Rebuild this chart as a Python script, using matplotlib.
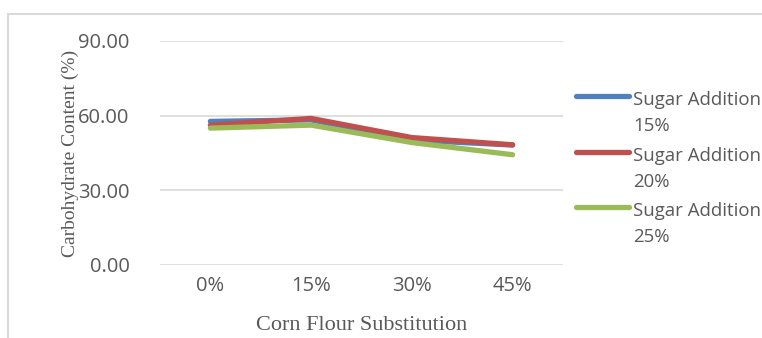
import matplotlib
matplotlib.use("Agg")
import matplotlib.pyplot as plt
from matplotlib.patches import Rectangle
from matplotlib.lines import Line2D

categories = ["0%", "15%", "30%", "45%"]
series_names = ["Sugar Addition\n15%", "Sugar Addition\n20%", "Sugar Addition\n25%"]
sugar15 = [57.7, 58.3, 50.2, 48.2]
sugar20 = [56.2, 58.9, 51.2, 48.3]
sugar25 = [55.0, 56.2, 49.2, 44.3]
yticks = [0, 30, 60, 90]
ytick_labels = ["0.00", "30.00", "60.00", "90.00"]

colors = ["#4F81BD", "#C0504D", "#9BBB59"]
W, H = 762, 338
fig = plt.figure(figsize=(W / 100, H / 100), dpi=100)

# outer frame (chart area border, clipped by the crop)
fig.add_artist(Rectangle((8 / W, -0.1), 1.2, 1.1 - 14 / H, transform=fig.transFigure,
                         fill=False, edgecolor="#D9D9D9", linewidth=1.5))

ax = fig.add_axes([160 / W, 1 - 265 / H, (563 - 160) / W, (265 - 41) / H])
x = list(range(len(categories)))
for vals, c, name in zip([sugar15, sugar20, sugar25], colors, series_names):
    ax.plot(x, vals, color=c, linewidth=3.8, solid_capstyle="round", label=name)

ax.set_xlim(-0.5, len(categories) - 0.5)
ax.set_ylim(0, 90)
ax.set_yticks(yticks)
ax.set_yticklabels(ytick_labels)
ax.set_xticks(x)
ax.set_xticklabels(categories)
for s in ax.spines.values():
    s.set_visible(False)
ax.grid(axis="y", color="#D9D9D9", linewidth=1.2)
ax.set_axisbelow(True)
ax.tick_params(length=0, labelsize=14.5, labelcolor="#595959")
ax.tick_params(axis="x", pad=8)
ax.tick_params(axis="y", pad=22)
for lab in ax.get_xticklabels() + ax.get_yticklabels():
    lab.set_fontfamily("Open Sans")

ax.set_xlabel("Corn Flour Substitution", family="Liberation Serif", fontsize=16,
              color="#595959", labelpad=14)
ax.set_ylabel("Carbohydrate Content (%)", family="Liberation Serif", fontsize=14,
              color="#595959", labelpad=-1)

# legend drawn to match the original layout (handle aligned with first line)
leg_y = [96, 151.5, 207]
for yy, c, name in zip(leg_y, colors, series_names):
    fig.add_artist(Line2D([576 / W, 629 / W], [1 - yy / H, 1 - yy / H],
                          transform=fig.transFigure, color=c, linewidth=3.8,
                          solid_capstyle="round"))
    fig.text(633 / W, 1 - (yy - 5) / H, name, family="Open Sans", fontsize=13.4,
             color="#595959", va="top", ha="left", linespacing=1.6)

fig.savefig("out.png", dpi=100)
